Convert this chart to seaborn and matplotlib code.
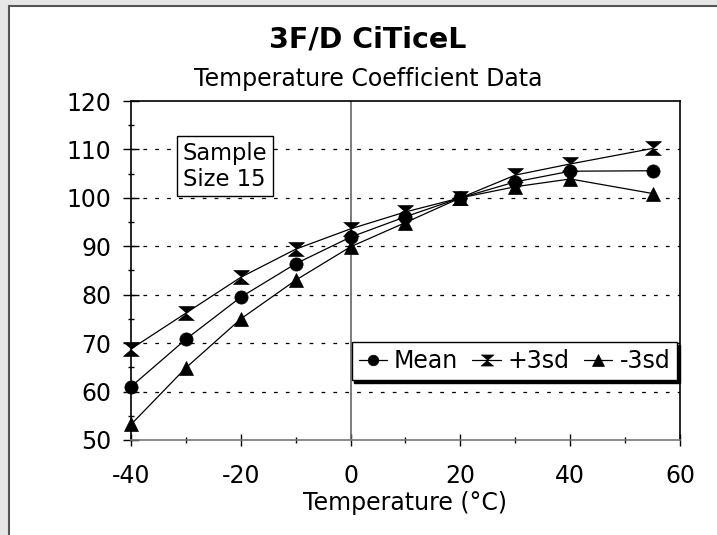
import matplotlib
matplotlib.use("Agg")
import matplotlib.pyplot as plt
from matplotlib.patches import Rectangle
from matplotlib.ticker import MultipleLocator
import seaborn as sns
import pandas as pd

sns.set_style("white")
plt.rcParams['font.family'] = ['DejaVu Sans']
plt.rcParams['text.color'] = 'black'
plt.rcParams['axes.labelcolor'] = 'black'
plt.rcParams['xtick.color'] = 'black'
plt.rcParams['ytick.color'] = 'black'
plt.rcParams['axes.unicode_minus'] = False

# data
temps = [-40, -30, -20, -10, 0, 10, 20, 30, 40, 55]
mean = [61.0, 70.8, 79.5, 86.4, 91.9, 96.1, 100.0, 103.3, 105.5, 105.6]
plus3sd = [68.8, 76.2, 83.6, 89.4, 93.6, 97.1, 100.0, 104.7, 107.0, 110.2]
minus3sd = [53.2, 64.9, 75.0, 83.0, 89.9, 94.9, 100.0, 102.3, 103.9, 100.9]
series_names = ['Mean', '+3sd', '-3sd']

df = pd.DataFrame({
    'Temperature': temps * 3,
    'Value': mean + plus3sd + minus3sd,
    'Series': [s for s in series_names for _ in temps],
})

hourglass = [(-1.1, 0.95), (1.1, 0.95), (-1.1, -0.95), (1.1, -0.95)]
markers = {'Mean': 'o', '+3sd': hourglass, '-3sd': '^'}
msizes = {'Mean': 9.5, '+3sd': 11.5, '-3sd': 10.5}

fig = plt.figure(figsize=(7.17, 5.35), dpi=100, facecolor='#e6e6e6')
# white chart panel
fig.patches.append(Rectangle((9 / 717, -0.02), 1.05, 1 - 6 / 535 + 0.02,
                             transform=fig.transFigure, facecolor='white',
                             edgecolor='#555555', lw=1.5, zorder=-1))
ax = fig.add_axes([0.1827, 0.1776, 0.9484 - 0.1827, 0.8112 - 0.1776])
ax.set_zorder(1)
ax.set_facecolor('white')

sns.lineplot(data=df, x='Temperature', y='Value', hue='Series', style='Series',
             hue_order=series_names, style_order=series_names,
             palette=['black'] * 3, markers=markers, dashes=False,
             markersize=10, markeredgecolor='black', markeredgewidth=0.5,
             linewidth=0.9, ax=ax, zorder=5, clip_on=False)
for line, name in zip(ax.lines[:3], series_names):
    line.set_markersize(msizes[name])

ax.set_xlim(-40, 60)
ax.set_ylim(50, 120)
ax.xaxis.set_major_locator(MultipleLocator(20))
ax.xaxis.set_minor_locator(MultipleLocator(10))
ax.yaxis.set_major_locator(MultipleLocator(10))
ax.yaxis.set_minor_locator(MultipleLocator(5))

for y in range(60, 120, 10):
    ax.axhline(y, color='black', lw=0.9, ls=(0, (3, 6.5)), zorder=1)
ax.axvline(0, color='#666666', lw=1.2, zorder=2)

for side in ['left', 'top', 'right']:
    ax.spines[side].set_color('black')
    ax.spines[side].set_linewidth(1.2)
ax.spines['bottom'].set_color('#777777')
ax.spines['bottom'].set_linewidth(1.2)

ax.tick_params(axis='both', which='both', direction='inout', color='black',
               width=1, labelsize=17, bottom=True, left=True, top=False,
               right=False)
ax.tick_params(axis='x', which='major', length=9, pad=13)
ax.tick_params(axis='y', which='major', length=12, pad=8)
ax.tick_params(which='minor', length=5)

ax.set_xlabel('Temperature (°C)', fontsize=17, labelpad=2)
ax.set_ylabel('')

fig.text(0.513, 1 - 48 / 535, '3F/D CiTiceL', ha='center', va='baseline',
         fontsize=20.5, fontweight='bold')
fig.text(0.513, 1 - 86 / 535, 'Temperature Coefficient Data', ha='center',
         va='baseline', fontsize=17)

ax.text(0.0947, 0.879, 'Sample\nSize 15', transform=ax.transAxes, ha='left',
        va='top', fontsize=16.3, linespacing=1.15,
        bbox=dict(boxstyle='square,pad=0.25', fc='white', ec='black', lw=1),
        zorder=6)

old = ax.get_legend()
handles = old.legend_handles
labels = [t.get_text() for t in old.get_texts()]
for h, name in zip(handles, labels):
    h.set_markersize(msizes[name] * 0.8)
    h.set_markeredgecolor('black')
    h.set_linewidth(0.9)
leg = ax.legend(handles, labels, ncol=3, loc='lower right',
                bbox_to_anchor=(0.995, 0.177), fontsize=17, frameon=True,
                fancybox=False, shadow={'color': 'black', 'alpha': 1},
                edgecolor='black', handlelength=1.2, handletextpad=0.3,
                columnspacing=0.6, borderpad=0.3, borderaxespad=0)
leg.get_frame().set_linewidth(1)
leg.get_frame().set_alpha(1)
leg.set_zorder(7)

plt.savefig('out.png', dpi=100, facecolor=fig.get_facecolor())
